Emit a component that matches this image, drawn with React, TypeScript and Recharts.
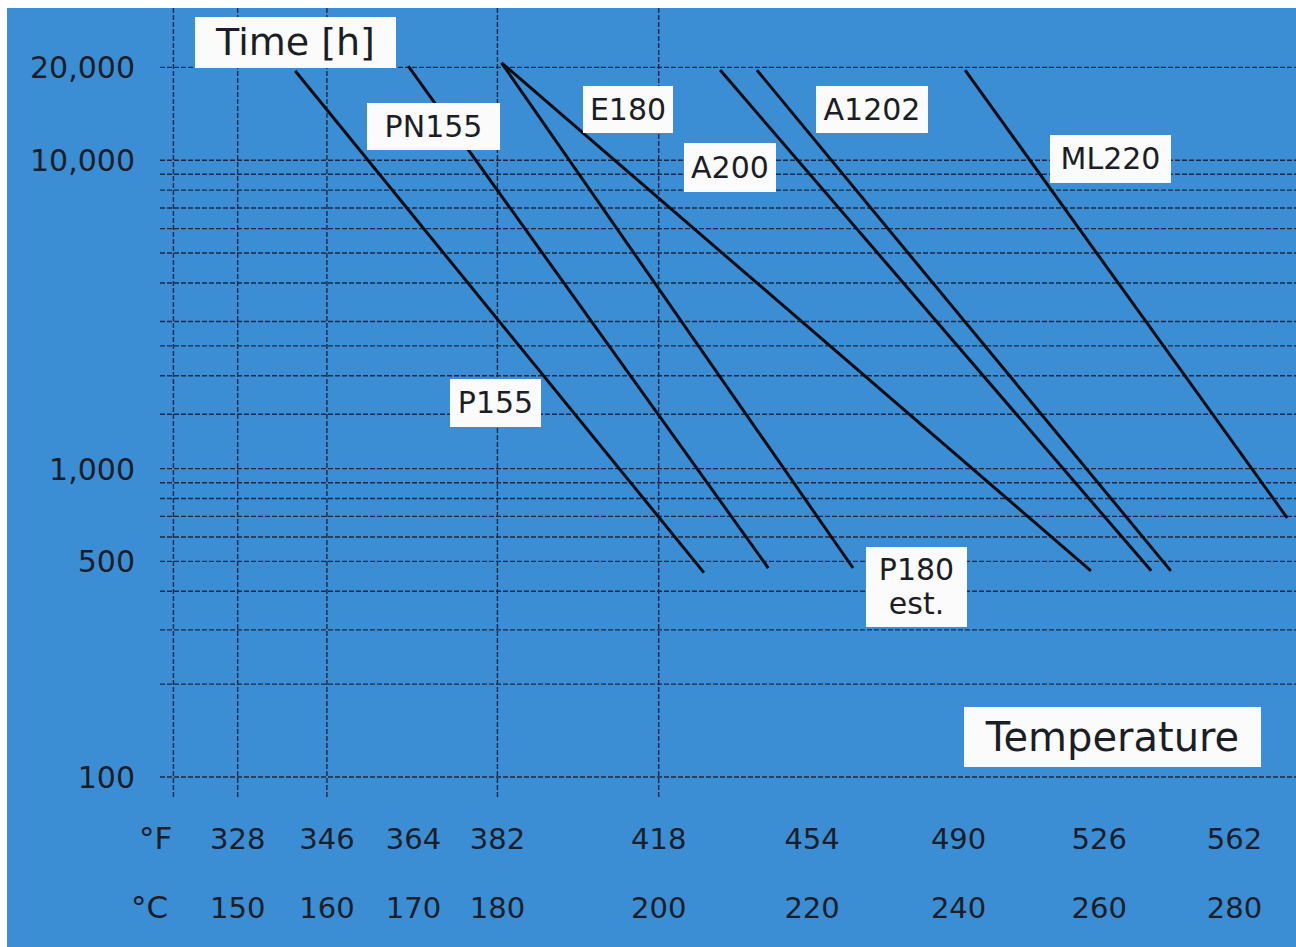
import { CartesianGrid, Line, LineChart, XAxis, YAxis } from "recharts";

// temperature axis, °C positions and the °F labels printed above them
const celsius = [150, 160, 170, 180, 200, 220, 240, 260, 280];
const fahrenheit = [328, 346, 364, 382, 418, 454, 490, 526, 562];
const tempGrid = [143, 150, 160, 180, 200];

// time axis (hours, log)
const hourTicks = [100, 500, 1000, 10000, 20000];
const hourGrid = [
  100, 200, 300, 400, 500, 600, 700, 800, 900, 1000, 1500, 2000, 2500, 3000, 4000, 5000,
  6000, 7000, 8000, 9000, 10000, 20000,
];

// life lines: [start, end] as °C / hours
const p155 = [{ t: 156.4, h: 19500 }, { t: 205.8, h: 460 }];
const pn155 = [{ t: 169.4, h: 20200 }, { t: 214.2, h: 476 }];
const p180 = [{ t: 180.5, h: 20700 }, { t: 225.5, h: 476 }];
const e180 = [{ t: 180.5, h: 20700 }, { t: 258.8, h: 466 }];
const a200 = [{ t: 207.9, h: 19600 }, { t: 267.6, h: 466 }];
const a1202 = [{ t: 212.7, h: 19600 }, { t: 270.5, h: 466 }];
const ml220 = [{ t: 240.9, h: 19600 }, { t: 288.0, h: 692 }];

const series = [
  { name: "P155", data: p155 },
  { name: "PN155", data: pn155 },
  { name: "P180 est.", data: p180 },
  { name: "E180", data: e180 },
  { name: "A200", data: a200 },
  { name: "A1202", data: a1202 },
  { name: "ML220", data: ml220 },
];

const BLUE = "#3b8dd4";
const INK = "#1b1e26";
const FONT = "'DejaVu Sans', sans-serif";

const boxes = [
  { text: "Time [h]", left: 195, top: 17, w: 201, h: 51, size: 38 },
  { text: "PN155", left: 367, top: 103, w: 133, h: 47, size: 30 },
  { text: "E180", left: 583, top: 86, w: 90, h: 47, size: 30 },
  { text: "A1202", left: 816, top: 86, w: 112, h: 47, size: 30 },
  { text: "A200", left: 684, top: 143, w: 92, h: 49, size: 30 },
  { text: "ML220", left: 1050, top: 135, w: 121, h: 48, size: 30 },
  { text: "P155", left: 450, top: 379, w: 91, h: 48, size: 30 },
  { text: "P180\nest.", left: 866, top: 547, w: 101, h: 80, size: 30 },
  { text: "Temperature", left: 964, top: 707, w: 297, h: 60, size: 40 },
];

function HourTick(props: any) {
  const { x, y, payload } = props;
  return (
    <text x={x - 25} y={y + 11} textAnchor="end" fontSize={30} fontFamily={FONT} fill={INK}>
      {payload.value.toLocaleString("en-US")}
    </text>
  );
}

function TempTick(props: any) {
  const { x, y, payload } = props;
  const f = fahrenheit[celsius.indexOf(payload.value)];
  return (
    <g fontSize={29} fontFamily={FONT} fill={INK} textAnchor="middle">
      <text x={x} y={y + 52}>{f}</text>
      <text x={x} y={y + 121}>{payload.value}</text>
    </g>
  );
}

export default function App() {
  return (
    <div
      style={{
        position: "absolute",
        left: 0,
        top: 0,
        width: 1296,
        height: 947,
        background: "#fff",
        overflow: "hidden",
      }}
    >
      <div style={{ position: "absolute", left: 7, top: 8, right: 0, bottom: 0, background: BLUE }} />
      <div style={{ position: "absolute", left: 0, top: 0 }}>
        <LineChart width={1296} height={947} margin={{ top: 8, right: 0, bottom: 0, left: 0 }}>
          <CartesianGrid
            stroke="#1d2a44"
            strokeWidth={1.4}
            strokeDasharray="5 2"
            horizontalValues={hourGrid}
            verticalValues={tempGrid}
          />
          <XAxis
            type="number"
            dataKey="t"
            scale="sqrt"
            domain={[141.56, 289.35]}
            allowDataOverflow
            ticks={celsius}
            interval={0}
            tick={<TempTick />}
            tickSize={0}
            tickMargin={0}
            axisLine={false}
            tickLine={false}
            height={150}
          />
          <YAxis
            type="number"
            dataKey="h"
            scale="log"
            domain={[86.1, 31160]}
            allowDataOverflow
            ticks={hourTicks}
            interval={0}
            tick={<HourTick />}
            tickSize={0}
            tickMargin={0}
            axisLine={false}
            tickLine={false}
            width={160}
          />
          {series.map((s) => (
            <Line
              key={s.name}
              data={s.data}
              dataKey="h"
              name={s.name}
              stroke="#0b0d14"
              strokeWidth={3}
              dot={false}
              activeDot={false}
              isAnimationActive={false}
            />
          ))}
        </LineChart>
      </div>

      <div style={{ position: "absolute", left: 139, top: 820, fontSize: 31, fontFamily: FONT, color: INK }}>°F</div>
      <div style={{ position: "absolute", left: 131, top: 889, fontSize: 31, fontFamily: FONT, color: INK }}>°C</div>

      {boxes.map((b) => (
        <div
          key={b.text}
          style={{
            position: "absolute",
            left: b.left,
            top: b.top,
            width: b.w,
            height: b.h,
            background: "#fbfbfb",
            color: INK,
            fontFamily: FONT,
            fontSize: b.size,
            lineHeight: b.text.includes("\n") ? "34px" : `${b.h}px`,
            display: "flex",
            flexDirection: "column",
            alignItems: "center",
            justifyContent: "center",
            textAlign: "center",
            whiteSpace: "pre",
          }}
        >
          {b.text}
        </div>
      ))}
    </div>
  );
}
